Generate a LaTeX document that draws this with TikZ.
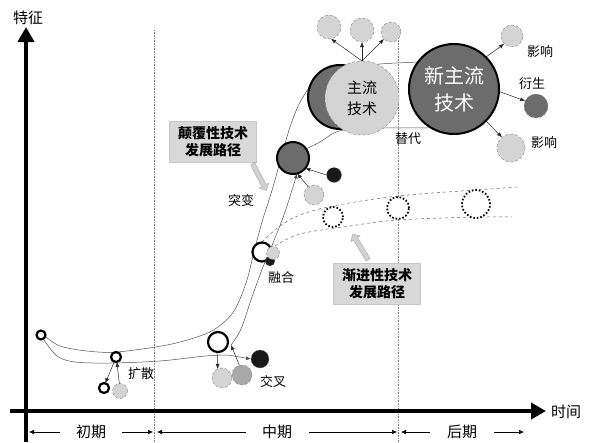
\documentclass[tikz,border=0pt]{standalone}
\usepackage{fontspec}
\newfontfamily\cjk{Noto Sans CJK SC}
\usetikzlibrary{arrows.meta,shapes.arrows}
\definecolor{lgray}{HTML}{D4D4D4}
\definecolor{mgray}{HTML}{A9A9A9}
\definecolor{dgray}{HTML}{6C6C6C}
\definecolor{lineg}{HTML}{505050}
\definecolor{boxg}{HTML}{D8D8D8}
\begin{document}
\begin{tikzpicture}[x=1pt,y=-1pt,
  band/.style={draw=lineg, line width=0.5pt},
  tipa/.style={-{Latex[length=5pt,width=4pt]}},
  arr/.style={draw=black!85, line width=0.5pt, tipa},
  per/.style={draw=black, line width=0.5pt, -{Latex[length=5pt,width=4.5pt]}},
  cnode/.style={circle, inner sep=0pt, outer sep=0pt},
  openc/.style={cnode, draw=black, line width=2.2pt, fill=white},
  lightc/.style={cnode, fill=lgray, draw=gray, densely dashed, line width=0.4pt},
  midc/.style={cnode, fill=mgray, draw=gray, densely dashed, line width=0.4pt},
  blackc/.style={cnode, fill=black!90, draw=gray, densely dashed, line width=0.4pt},
  darkd/.style={cnode, fill=dgray, draw=gray, densely dashed, line width=0.4pt},
  darkc/.style={cnode, fill=dgray, draw=black, line width=2pt},
  dotc/.style={cnode, fill=white, draw=black, line width=1.8pt, dash pattern=on 1.6pt off 1.9pt},
  lab/.style={inner sep=0pt, font=\cjk\fontsize{13}{15}\selectfont},
  biglab/.style={inner sep=0pt, font=\cjk\fontsize{15}{17}\selectfont},
  boxs/.style={fill=boxg, draw=gray!45, line width=0.4pt, minimum width=87pt, minimum height=41pt, align=center, inner sep=0pt, font=\cjk\bfseries\fontsize{14}{17}\selectfont},
  barrow/.style={single arrow, fill=gray!35, draw=gray!70, line width=0.4pt, inner sep=2.2pt, single arrow head extend=3pt, single arrow head indent=0pt, minimum height=30pt}
]
\useasboundingbox (0,0) rectangle (594,442);

% period dividers
\draw[gray, densely dotted, line width=0.6pt] (154,30) -- (154,442);
\draw[gray, densely dotted, line width=0.6pt] (398,38) -- (398,442);

% axes
\draw[line width=4pt, -{Triangle[length=15pt,width=16pt]}] (26,442) -- (26,27);
\draw[line width=4pt, -{Triangle[length=15pt,width=16pt]}] (10,411) -- (546,411);
\node[biglab] (yl) at (28,18) {特征};
\node[biglab] (xl) at (566,412) {时间};

% periods
\node[biglab] (p1) at (91,432) {初期};
\node[biglab] (p2) at (277,432) {中期};
\node[biglab] (p3) at (462,432) {后期};
\coordinate (b0) at (29,432);
\coordinate (b1) at (153,432);
\coordinate (b2) at (157,432);
\coordinate (b3) at (397,432);
\coordinate (b4) at (401,432);
\coordinate (b5) at (524,432);
\draw[per] ([xshift=-16pt]p1.west) -- (b0);
\draw[per] ([xshift=16pt]p1.east) -- (b1);
\draw[per] ([xshift=-16pt]p2.west) -- (b2);
\draw[per] ([xshift=17pt]p2.east) -- (b3);
\draw[per] ([xshift=-17pt]p3.west) -- (b4);
\draw[per] ([xshift=17pt]p3.east) -- (b5);

% incremental path (dashed)
\draw[gray!80!black, dashed, line width=0.5pt] plot[smooth, tension=0.6] coordinates {(262,242) (280,226) (300,215) (333,206) (398,196) (476,190) (518,187)};
\draw[gray!80!black, dashed, line width=0.5pt] plot[smooth, tension=0.6] coordinates {(275,246) (300,234) (350,226) (398,220) (476,217) (512,217)};
\node[dotc, minimum size=20pt] (d1) at (333,217) {};
\node[dotc, minimum size=22pt] (d2) at (398,208) {};
\node[dotc, minimum size=28pt] (d3) at (476,204) {};

% circles needed for anchors
\node[cnode, minimum size=32pt] (tb) at (293,158) {};
\node[cnode, minimum size=18pt] (jc3) at (260,359) {};

% disruptive band lines
\draw[band] plot[smooth, tension=0.55] coordinates {(45,336) (60,346) (87,351) (117,352) (167,345) (200,336) (218,327) (234,311) (246,283) (254,252) (262,222) (273,187) (290,127) (303,97) (320,77) (350,68) (380,64) (420,62)};
\draw[band] plot[smooth, tension=0.55] coordinates {(44,340) (57,356) (75,362) (110,363) (160,361) (205,356) (228,355)};
\draw[band, tipa] (228,355) -- (jc3.west);
\coordinate (rb0) at (231,345);
\draw[band, tipa] plot[smooth, tension=0.55] coordinates {(rb0) (241,329) (252,297) (263,267) (273,243) (285,212) (tb.-75)};
\draw[band] plot[smooth, tension=0.55] coordinates {(tb.35) (320,142) (334,133) (350,129) (383,128) (432,128)};

% start and diffusion
\node[openc, minimum size=9pt] (s0) at (41,335) {};
\node[openc, minimum size=10pt] (ks) at (116,357) {};
\node[openc, minimum size=10pt] (ks2) at (104,388) {};
\node[lightc, minimum size=15pt] (ks3) at (120,391) {};
\draw[arr] (ks.250) -- (ks2.75);
\draw[arr] (ks3.95) -- (ks.-80);
\node[lab] (lks) at (141,374) {扩散};

% crossing
\node[openc, minimum size=20pt] (jc) at (218,342) {};
\node[lightc, minimum size=20pt] (jc1) at (222,378) {};
\node[midc, minimum size=20pt] (jc2) at (242,375) {};
\node[blackc, minimum size=18pt] at (jc3) {};
\draw[arr] (jc.265) -- (jc1.115);
\draw[arr] (jc2.105) -- (rb0);
\node[lab] (ljc) at (273,382) {交叉};

% fusion
\node[openc, minimum size=19pt] (rh) at (262,252) {};
\node[blackc, minimum size=10pt] (rh2) at (270,261) {};
\node[lightc, minimum size=13pt] (rh1) at (273,253) {};
\node[lab] (lrh) at (281,278) {融合};

% mutation
\node[darkc, minimum size=32pt] at (tb) {};
\node[blackc, minimum size=15pt] (tb1) at (334,175) {};
\node[lightc, minimum size=20pt] (tb2) at (314,195) {};
\draw[arr] (tb1.west) -- (tb.-40);
\draw[arr] (tb2.125) -- (tb.-75);
\node[lab] (ltb) at (241,201) {突变};

% mainstream technology
\node[darkc, minimum size=64pt] (md) at (340,97) {};
\node[lightc, minimum size=74pt, align=center, font=\cjk\fontsize{15}{21}\selectfont] (ml) at (362,98) {主流\\技术};
\node[lightc, minimum size=24pt] (t1) at (329,27) {};
\node[lightc, minimum size=24pt] (t2) at (362,30) {};
\node[lightc, minimum size=20pt] (t3) at (391,32) {};
\draw[arr] (ml.north) -- (t1.-80);
\draw[arr] (ml.north) -- (t2.south);
\draw[arr] (ml.north) -- (t3.-135);
\node[lab] (ltd) at (408,139) {替代};

% new mainstream technology
\node[darkc, minimum size=90pt, align=center, text=white, font=\cjk\fontsize{20}{27}\selectfont] (nm) at (454,89) {新主流\\技术};
\node[lightc, minimum size=22pt] (n1) at (512,36) {};
\node[darkd, minimum size=24pt] (n2) at (536,106) {};
\node[lightc, minimum size=28pt] (n3) at (511,148) {};
\draw[arr] (nm.45) -- (n1.-135);
\draw[arr] (nm.-3) -- (n2.155);
\draw[arr] (nm.-45) -- (n3.130);
\node[lab] (ln1) at (540,52) {影响};
\node[lab] (ln2) at (532,84) {衍生};
\node[lab] (ln3) at (544,143) {影响};

% path label boxes
\node[boxs] (bx1) at (213,142) {颠覆性技术\\发展路径};
\node[barrow, rotate=-62.6] (ba1) at (259,176) {};
\node[boxs] (bx2) at (377,284) {渐进性技术\\发展路径};
\node[barrow, rotate=121] (ba2) at (361,248) {};
\end{tikzpicture}
\end{document}
